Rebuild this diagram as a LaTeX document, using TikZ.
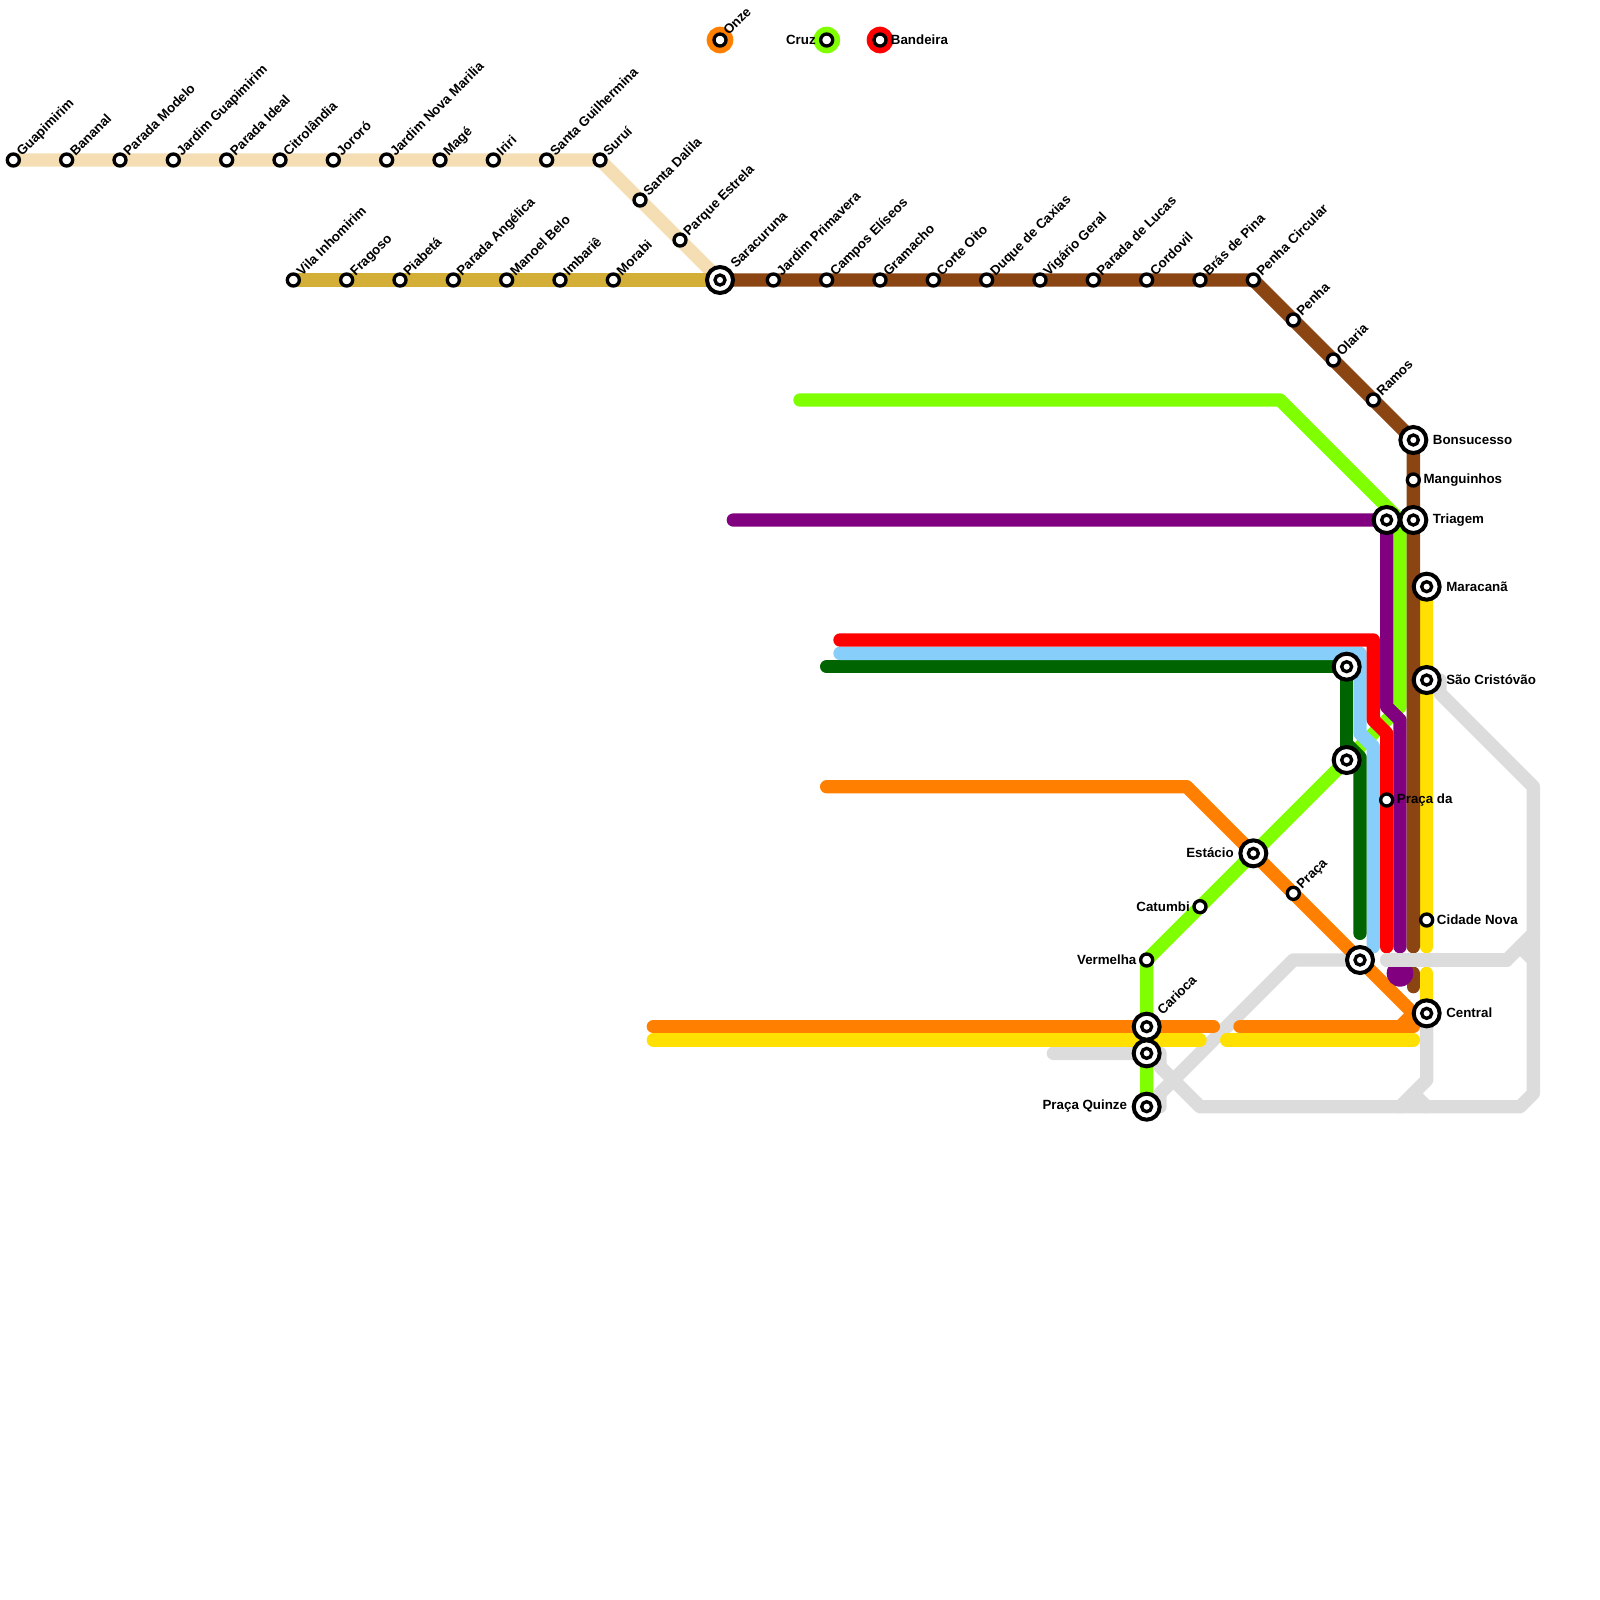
\documentclass[tikz,border=0pt]{standalone}
\usepackage{fontspec}
\setmainfont{Liberation Sans}
\usetikzlibrary{backgrounds}
\definecolor{wheatline}{HTML}{F5DEB3}
\definecolor{goldline}{HTML}{D4AF37}
\definecolor{brownline}{HTML}{8B4513}
\definecolor{greenline}{HTML}{7FFF00}
\definecolor{purpleline}{HTML}{800080}
\definecolor{redline}{HTML}{FF0000}
\definecolor{blueline}{HTML}{87CEFA}
\definecolor{darkline}{HTML}{006400}
\definecolor{orangeline}{HTML}{FF8000}
\definecolor{yellowline}{HTML}{FFE000}
\definecolor{grayline}{HTML}{DCDCDC}
\tikzset{
  stn/.style={draw=black, fill=white, circle, line width=2.5pt, minimum size=9pt, inner sep=0pt, outer sep=0pt},
  hub/.style={draw=black, fill=white, circle, line width=3pt, minimum size=19.5pt, inner sep=0pt, outer sep=0pt,
    path picture={\draw[line width=2.5pt] (path picture bounding box.center) circle (3.75pt);}},
  lab/.style={font=\bfseries\fontsize{10}{12}\selectfont, inner sep=0pt, text=black},
  slant/.style={lab, rotate=45, anchor=base west},
  metro/.style={line width=10pt, line cap=round, line join=round}
}
\begin{document}
\begin{tikzpicture}[x=10pt, y=-10pt]
  \useasboundingbox (0,0) rectangle (120,120);

  \foreach \n/\x/\y/\t in {gua/1/12/Guapimirim, ban/5/12/Bananal, pmo/9/12/Parada Modelo, jgu/13/12/Jardim Guapimirim,
      pid/17/12/Parada Ideal, cit/21/12/Citrolândia, jor/25/12/Jororó, jnm/29/12/Jardim Nova Marilia, mag/33/12/Magé,
      iri/37/12/Iriri, sgu/41/12/Santa Guilhermina, sur/45/12/Suruí, sda/48/15/Santa Dalila, pes/51/18/Parque Estrela,
      vin/22/21/Vila Inhomirim, fra/26/21/Fragoso, pia/30/21/Piabetá, pan/34/21/Parada Angélica, mbe/38/21/Manoel Belo,
      imb/42/21/Imbariê, mor/46/21/Morabi, jpr/58/21/Jardim Primavera, cel/62/21/Campos Elíseos, gra/66/21/Gramacho,
      cor/70/21/Corte Oito, dca/74/21/Duque de Caxias, vge/78/21/Vigário Geral, plu/82/21/Parada de Lucas,
      cdv/86/21/Cordovil, bpi/90/21/Brás de Pina, pci/94/21/Penha Circular, pen/97/24/Penha, ola/100/27/Olaria,
      ram/103/30/Ramos, pra/97/67/Praça}
    \node[stn] (\n) at (\x,\y) {} node[slant] (\n-t) at (\x+0.65,\y-0.25) {\t};

  \foreach \n/\x/\y/\t in {man/106/36/Manguinhos, pda/104/60/Praça da, cno/107/69/Cidade Nova}
    \node[stn] (\n) at (\x,\y) {} node[lab, anchor=west] (\n-t) at (\x+0.75,\y-0.03) {\t};
  \foreach \n/\x/\y/\t in {cat/90/68/Catumbi, ver/86/72/Vermelha}
    \node[stn] (\n) at (\x,\y) {} node[lab, anchor=east] (\n-t) at (\x-0.75,\y-0.03) {\t};

  \foreach \n/\x/\y/\t in {bon/106/33/Bonsucesso, tri/106/39/Triagem, mar/107/44/Maracanã, sao/107/51/São Cristóvão, cen/107/76/Central}
    \node[hub] (\n) at (\x,\y) {} node[lab, anchor=west] (\n-t) at (\x+1.45,\y-0.03) {\t};
  \foreach \n/\x/\y/\t in {est/94/64/Estácio, pqz/86/83/Praça Quinze}
    \node[hub] (\n) at (\x,\y) {} node[lab, anchor=east] (\n-t) at (\x-1.45,\y-0.03) {\t};
  \foreach \n/\x/\y in {tr2/104/39, lap/101/50, mid/101/57, rio/102/72, car2/86/79}
    \node[hub] (\n) at (\x,\y) {};
  \node[hub] (sar) at (54,21) {} node[slant] (sar-t) at (55.2,20.17) {Saracuruna};
  \node[hub] (car) at (86,77) {} node[slant] (car-t) at (87.2,76.17) {Carioca};

  \foreach \n/\x/\c/\t in {onz/54/orangeline/Onze, cru/62/greenline/Cruz, bnd/66/redline/Bandeira} {
    \fill[\c] (\x,3) circle (10pt);
    \node[stn] (\n) at (\x,3) {};
  }
  \node[slant] (onz-t) at (54.65,2.7) {Onze};
  \node[lab, anchor=east] (cru-t) at (61.2,2.97) {Cruz};
  \node[lab, anchor=west] (bnd-t) at (66.8,2.97) {Bandeira};

  \foreach \n/\x/\y in {a1/96/30, a2/60/30, a3/105/39, a4/105/53, b1/55/39, b2/104/53, b3/105/54, b4/105/71,
      c1/63/48, c2/103/48, c3/103/54, c4/104/55, c5/104/71, d1/63/49, d2/102/49, d3/102/55, d4/103/56, d5/103/71,
      e1/62/50, e2/101/55.8, e4/102/56.8, e3/102/70, f1/62/59, f2/89/59, f3/106/76, g1/49/77, g2/91/77, g3/93/77, g4/106/77, g5/105/77,
      h1/49/78, h2/90/78, h3/92/78, h4/106/78, i1/107/71, i2/107/73, j1/106/71, j2/106/73, j3/106/74,
      k1/79/79, k2/87/79, k3/87/80, k4/90/83, k5/114/83, k6/115/82, k7/115/59, k8/108/52, k9/108/51,
      l1/87/83, l2/87/82, l3/97/72, m1/104/72, m2/113/72, m3/115/70, m4/114/71, m5/115/72,
      n1/107/81, n2/105/83, n3/106/82, n4/107/83, o1/45/12, o2/94/21, o3/105/73}
    \coordinate (\n) at (\x,\y);

  \begin{scope}[on background layer]
    \draw[metro, wheatline] (gua.center) -- (o1) -- (sar.center);
    \draw[metro, goldline] (vin.center) -- (sar.center);
    \draw[metro, grayline] (sao.center) -- (k9) -- (k8) -- (k7) -- (k6) -- (k5) -- (k4) -- (k3) -- (k2) -- (k1);
    \draw[metro, grayline] (pqz.center) -- (l1) -- (l2) -- (l3) -- (rio.center);
    \draw[metro, grayline] (m1) -- (m2) -- (m3);
    \draw[metro, grayline] (m4) -- (m5);
    \draw[metro, grayline] (cen.center) -- (n1) -- (n2);
    \draw[metro, grayline] (n3) -- (n4);
    \draw[metro, greenline] (a2) -- (a1) -- (a3) -- (a4) -- (mid.center) -- (ver.center) -- (pqz.center);
    \draw[metro, orangeline] (f1) -- (f2) -- (f3) -- (cen.center);
    \draw[metro, orangeline] (g1) -- (g2);
    \draw[metro, orangeline] (g3) -- (g4);
    \draw[metro, orangeline] (g5) -- (f3);
    \draw[metro, yellowline] (h1) -- (h2);
    \draw[metro, yellowline] (h3) -- (h4);
    \draw[metro, yellowline] (mar.center) -- (i1);
    \draw[metro, yellowline] (i2) -- (cen.center);
    \draw[metro, darkline] (e1) -- (lap.center) -- (mid.center);
    \draw[metro, blueline] (d1) -- (d2) -- (d3) -- (d4) -- (d5);
    \draw[metro, darkline] (e2) -- (e4) -- (e3);
    \draw[metro, redline] (c1) -- (c2) -- (c3) -- (c4) -- (c5);
    \draw[metro, purpleline] (b1) -- (tr2.center) -- (b2) -- (b3) -- (b4);
    \draw[metro, brownline] (sar.center) -- (o2) -- (bon.center) -- (j1);
    \draw[metro, brownline] (j2) -- (j3);
    \fill[purpleline] (o3) circle (10pt);
    \draw[metro, grayline] (m1) -- (m2);
  \end{scope}
\end{tikzpicture}
\end{document}
